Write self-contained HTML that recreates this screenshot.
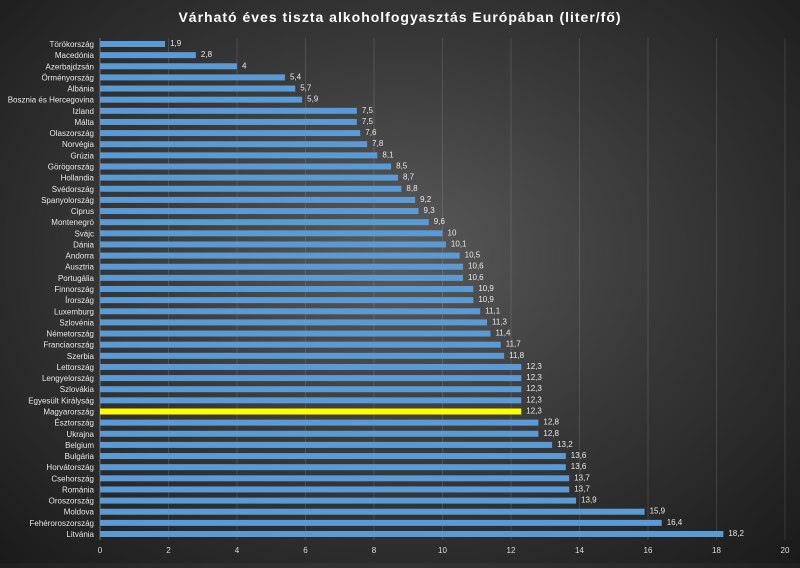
<!DOCTYPE html>
<html><head><meta charset="utf-8"><style>
body{margin:0;width:800px;height:563px;overflow:hidden;background:radial-gradient(ellipse at 50% 45%,#5a5a5a 0%,#3a3a3a 45%,#1a1a1a 100%);font-family:"Liberation Sans",sans-serif}
</style></head><body>
<svg id="chart" width="800" height="563" xmlns="http://www.w3.org/2000/svg">
<text x="400" y="22" text-anchor="middle" fill="#fff" font-size="14" font-weight="bold" letter-spacing="1">Várható éves tiszta alkoholfogyasztás Európában (liter/fő)</text>
</svg>
<script>
const categories=["Törökország","Macedónia","Azerbajdzsán","Örményország","Albánia","Bosznia és Hercegovina","Izland","Málta","Olaszország","Norvégia","Grúzia","Görögország","Hollandia","Svédország","Spanyolország","Ciprus","Montenegró","Svájc","Dánia","Andorra","Ausztria","Portugália","Finnország","Írország","Luxemburg","Szlovénia","Németország","Franciaország","Szerbia","Lettország","Lengyelország","Szlovákia","Egyesült Királyság","Magyarország","Észtország","Ukrajna","Belgium","Bulgária","Horvátország","Csehország","Románia","Oroszország","Moldova","Fehéroroszország","Litvánia"];
const values=[1.9,2.8,4,5.4,5.7,5.9,7.5,7.5,7.6,7.8,8.1,8.5,8.7,8.8,9.2,9.3,9.6,10,10.1,10.5,10.6,10.6,10.9,10.9,11.1,11.3,11.4,11.7,11.8,12.3,12.3,12.3,12.3,12.3,12.8,12.8,13.2,13.6,13.6,13.7,13.7,13.9,15.9,16.4,18.2];
const xTicks=[0,2,4,6,8,10,12,14,16,18,20];
const highlight="Magyarország";
const svg=document.getElementById('chart');const NS="http://www.w3.org/2000/svg";
const x0=100,x1=785,y0=44,step=(534-44)/(categories.length-1);
const xs=v=>x0+(v/20)*(x1-x0);const ys=i=>y0+i*step;
function mk(t,a){const e=document.createElementNS(NS,t);for(const k in a)e.setAttribute(k,a[k]);svg.appendChild(e);return e;}
xTicks.forEach(t=>{
 const g=mk('line',{x1:xs(t),x2:xs(t),y1:38,y2:540,stroke:'#fff','stroke-opacity':t===0?0.35:0.12,'stroke-width':1});
 
 
 const l=mk('text',{x:xs(t),y:553,'text-anchor':'middle',fill:'#ddd','font-size':8});l.textContent=t;
 
 
});
categories.forEach((c,i)=>{
 const y=ys(i),v=values[i];
 const b=mk('rect',{x:x0,y:y-3,width:xs(v)-x0,height:6,fill:c===highlight?'#ffff00':'#5b9bd5'});
 
 
 const l=mk('text',{x:94,y:y+3,'text-anchor':'end',fill:'#e8e8e8','font-size':8});l.textContent=c;
 
 
 const d=mk('text',{x:xs(v)+5,y:y+2,fill:'#e8e8e8','font-size':8});d.textContent=String(v).replace('.',',');
 
 
});
</script>
</body></html>
